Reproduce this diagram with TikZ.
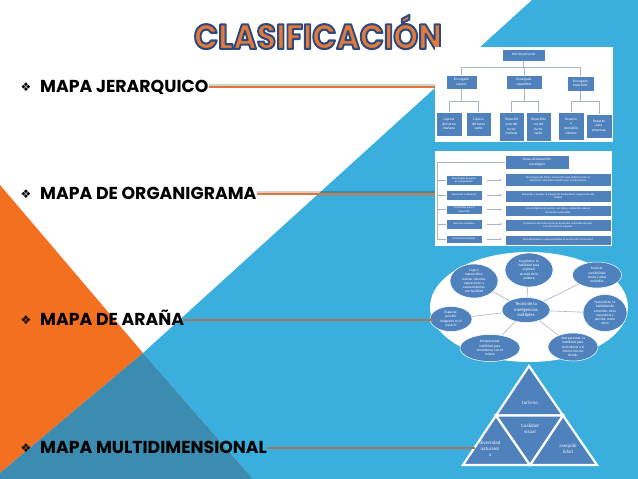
\documentclass[tikz,border=0pt]{standalone}
\usepackage{fontspec}
\setmainfont{Poppins}
\newfontfamily\symf{DejaVu Sans}
\newfontfamily\smallf{Carlito}
\newfontfamily\titlefont{Poppins}
\usetikzlibrary{shapes.geometric,arrows.meta}
\definecolor{slorange}{HTML}{F37021}
\definecolor{slblue}{HTML}{3AAFDE}
\definecolor{sldark}{HTML}{3B8CB0}
\definecolor{boxblue}{HTML}{4F81BD}
\definecolor{leador}{HTML}{E2743A}
\definecolor{leadbr}{HTML}{A0785E}
\definecolor{titleor}{HTML}{E27A3C}
\definecolor{conncol}{HTML}{A8B4C4}
\newcommand{\outlinetext}[1]{\special{pdf:literal direct 2 Tr 1.8 w 1 j 0.18 0.29 0.49 RG}#1\special{pdf:literal direct 0 Tr}}
\begin{document}
\begin{tikzpicture}[x=1pt,y=-1pt,
  picbg/.style={fill=white,draw=none,inner sep=0},
  hbox/.style={draw=white,line width=0.4pt,fill=boxblue,text=white,align=center,inner sep=0.3pt,
    font=\smallf\fontsize{3.6}{4.6}\selectfont},
  obox/.style={hbox,font=\smallf\fontsize{2.8}{3.4}\selectfont},
  spn/.style={ellipse,fill=boxblue,draw=white,line width=0.5pt,text=white,align=center,inner sep=0,
    font=\smallf\fontsize{3.6}{4.3}\selectfont},
  conn/.style={draw=conncol,line width=0.7pt},
  tri/.style={fill=boxblue,draw=white,line width=2.2pt,line join=miter},
  trit/.style={text=white!88!boxblue,align=center,inner sep=0,font=\smallf\fontsize{5}{6}\selectfont},
  bul/.style={anchor=west,inner sep=0,text height=11.8pt,text depth=0pt,
    font=\bfseries\fontsize{17.3}{17.3}\selectfont},
  dia/.style={inner sep=0,font=\symf\fontsize{12}{12}\selectfont},
  leadA/.style={leador,line width=2.6pt},
  leadB/.style={leadbr,line width=2.6pt},
  shad/.style={black,opacity=0.18,line width=1.6pt}
]
\useasboundingbox (0,0) rectangle (638,479);
% slide background
\fill[white] (0,0) rectangle (638,479);
\fill[slorange] (0,185) -- (143,353) -- (0,473) -- cycle;
\fill[slblue] (532,0) -- (638,0) -- (638,479) -- (253,479) -- (143,353) -- cycle;
\fill[sldark] (143,353) -- (253,479) -- (0,479) -- (0,473) -- cycle;

% title
\node[inner sep=0] (title) at (318,32)
  {\resizebox{248pt}{34pt}{\titlefont\bfseries\fontsize{30}{30}\selectfont\color{titleor}\outlinetext{CLASIFICACIÓN}}};

% ---------- hierarchy picture ----------
\node[picbg,minimum width=178,minimum height=95] (hier) at (524,94.5) {};
\node[hbox,minimum width=43,minimum height=12] (h0) at (523.5,55) {Jefe de personal};
\node[hbox,minimum width=31,minimum height=14] (h1) at (461.5,82) {Encargado\\cajeros};
\node[hbox,minimum width=36,minimum height=14] (h2) at (524,82) {Encargado\\repartidor};
\node[hbox,minimum width=27,minimum height=15] (h3) at (580.5,83.5) {Encargado\\repartidor};
\node[hbox,minimum width=26,minimum height=24] (h11) at (449,124) {Cajeros\\del turno\\mañana};
\node[hbox,minimum width=25,minimum height=24] (h12) at (478.5,124) {Cajeros\\del turno\\tarde};
\node[hbox,minimum width=25,minimum height=29] (h21) at (511.5,126.5) {Repartid\\ores del\\turno\\mañana};
\node[hbox,minimum width=25,minimum height=29] (h22) at (538.5,126.5) {Repartido\\res del\\turno\\tarde};
\node[hbox,minimum width=26,minimum height=28] (h31) at (571,126) {Reparto\\a\\domicilio\\clientes};
\node[hbox,minimum width=26,minimum height=24] (h32) at (599,126) {Reparto\\para\\empresas};
\draw[conn] (h0.south) -- ++(0,6) -| (h1.north);
\draw[conn] (h0.south) -- ++(0,6) -| (h2.north);
\draw[conn] (h0.south) -- ++(0,6) -| (h3.north);
\draw[conn] (h1.south) -- ++(0,12) -| (h11.north);
\draw[conn] (h1.south) -- ++(0,12) -| (h12.north);
\draw[conn] (h2.south) -- ++(0,12) -| (h21.north);
\draw[conn] (h2.south) -- ++(0,12) -| (h22.north);
\draw[conn] (h3.south) -- ++(0,10) -| (h31.north);
\draw[conn] (h3.south) -- ++(0,10) -| (h32.north);

% ---------- organigram picture ----------
\node[picbg,minimum width=177,minimum height=95] (org) at (523.5,198.5) {};
\node[hbox,minimum width=64,minimum height=14] (o0) at (537,162) {Áreas de desarrollo\\estratégico};
\node[obox,minimum width=36,minimum height=10] (l1) at (464,180) {Tecnologías de punta\\en computación};
\node[obox,minimum width=36,minimum height=10] (l2) at (464,195) {Educación a distancia};
\node[obox,minimum width=36,minimum height=9] (l3) at (464,209.5) {Contenidos para el\\desarrollo};
\node[obox,minimum width=36,minimum height=10] (l4) at (464,224) {Recursos naturales};
\node[obox,minimum width=36,minimum height=8] (l5) at (464,239) {Ciencias biomédicas};
\node[obox,minimum width=106,minimum height=13] (r1) at (558,179.5) {Tecnologías del futuro, innovación para obtener frutos el\\desarrollo, educación evolutiva por computadores};
\node[obox,minimum width=106,minimum height=12] (r2) at (558,196) {Aumentar y acceder al margen de la educación, superior de alta\\calidad};
\node[obox,minimum width=106,minimum height=11] (r3) at (558,210.5) {Con el objetivo de aportar con ideas y contenidos para el\\desarrollo sustentable};
\node[obox,minimum width=106,minimum height=12] (r4) at (558,225) {Propuestas alternativas para el desarrollo sostenible del país.\\Conservación de especies};
\node[obox,minimum width=106,minimum height=10] (r5) at (558,240) {Descubrimientos y potencialidades al servicio de los humanos};
\coordinate (sp) at (437,162);
\draw[conn] (o0.west) -- (sp) -- (sp |- l5);
\foreach \n in {l1,l2,l3,l4,l5} \draw[conn] (sp |- \n) -- (\n.west);
\foreach \a/\b in {l1/r1,l2/r2,l3/r3,l4/r4,l5/r5}
  \draw[conn,line width=0.5pt,-{Stealth[length=2pt,width=2pt]}] ([xshift=5]\a.east) -- ([xshift=-3]\a.east -| \b.west);

% ---------- spider picture ----------
\begin{scope}
\clip (420,245) rectangle (638,361);
\node[ellipse,fill=white,draw=none,minimum width=198,minimum height=110,inner sep=0] (spw) at (529,307) {};
\node[spn,minimum width=48,minimum height=25,font=\smallf\fontsize{4.6}{5.3}\selectfont] (sc) at (526,310) {Teoría de la\\inteligencias\\múltiples};
\node[spn,minimum width=48,minimum height=34] (s1) at (529,270) {Lingüística: la\\habilidad para\\expresar\\através de la\\palabra};
\node[spn,minimum width=48,minimum height=34] (s2) at (474,281) {Lógico\\matemática:\\realizar cálculos,\\operaciones y\\razonamientos\\con facilidad};
\node[spn,minimum width=49,minimum height=26] (s3) at (597,275) {Musical:\\sensibilidad\\tonos y altas\\melodías};
\node[spn,minimum width=42,minimum height=25] (s4) at (451,319) {Espacial:\\percibir\\imágenes en el\\espacio};
\node[spn,minimum width=44,minimum height=37] (s5) at (605,313) {Naturalista: la\\habilidad de\\entender, de la\\naturaleza y\\percibir, entre\\otros};
\node[spn,minimum width=60,minimum height=27] (s6) at (490,348) {Intrapersonal:\\habilidad para\\entenderse con el\\mismo};
\node[spn,minimum width=50,minimum height=28] (s7) at (573,347) {Interpersonal: la\\habilidad para\\entenderse a sí\\mismo con los\\demás};
\foreach \n in {s1,s2,s3,s4,s5,s6,s7} \draw[conn,line width=0.6pt] (sc) -- (\n);
\end{scope}

% ---------- pyramid picture ----------
\coordinate (tA) at (529,366);
\coordinate (tB) at (463,465);
\coordinate (tC) at (597,465);
\coordinate (mAB) at (496,415.5);
\coordinate (mAC) at (563,415.5);
\coordinate (mBC) at (530,465);
\filldraw[tri] (tA) -- (mAB) -- (mAC) -- cycle;
\filldraw[tri] (mAB) -- (tB) -- (mBC) -- cycle;
\filldraw[tri] (mAC) -- (mBC) -- (tC) -- cycle;
\filldraw[tri] (mAB) -- (mAC) -- (mBC) -- cycle;
\node[trit] (tt1) at (530,403) {turismo};
\node[trit] (tt2) at (530,429) {Cualidad\\visual};
\node[trit] (tt3) at (490,449) {diversidad\\naturalez\\a};
\node[trit] (tt4) at (568,449) {asequibi\\lidad};
\coordinate (t4) at (475,447);

% ---------- bullets ----------
\node[dia] (d1) at (26,87) {❖};
\node[bul] (b1) at (40,87) {MAPA JERARQUICO};
\node[dia] (d2) at (26,194) {❖};
\node[bul] (b2) at (40,194) {MAPA DE ORGANIGRAMA};
\node[dia] (d3) at (26,320) {❖};
\node[bul] (b3) at (40,320) {MAPA DE ARAÑA};
\node[dia] (d4) at (26,448) {❖};
\node[bul] (b4) at (40,448) {MAPA MULTIDIMENSIONAL};

% leaders
\draw[shad] ([yshift=2]b1.east) -- ([yshift=2]b1.east -| hier.west);
\draw[leadA] (b1.east) -- (b1.east -| hier.west);
\draw[shad] ([yshift=2]b2.east) -- ([yshift=2]b2.east -| org.west);
\draw[leadA] (b2.east) -- (b2.east -| org.west);
\draw[leadB] (b3.east) -- (b3.east -| spw.188);
\draw[leadB] (b4.east) -- (b4.east -| t4);
\end{tikzpicture}
\end{document}
